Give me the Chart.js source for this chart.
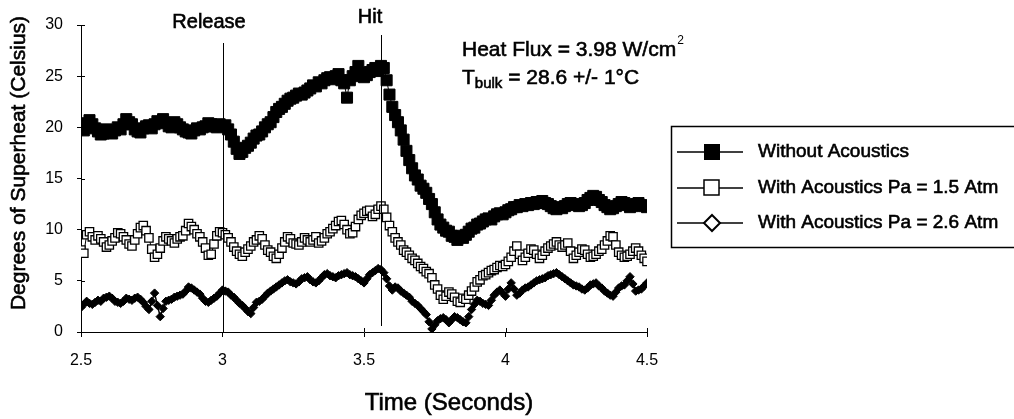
<!DOCTYPE html>
<html>
<head>
<meta charset="utf-8">
<script src="https://cdn.jsdelivr.net/npm/chart.js@4"></script>
<style>
  body { margin: 0; background: #fff; }
  #wrap { width: 1014px; height: 419px; }
</style>
</head>
<body>
<div id="wrap"><canvas id="myChart" width="1014" height="419"></canvas></div>
<script>
// time in seconds (one sample every 0.01 s)
let times = [
  2.50, 2.51, 2.52, 2.53, 2.54, 2.55, 2.56, 2.57, 2.58, 2.59,
  2.60, 2.61, 2.62, 2.63, 2.64, 2.65, 2.66, 2.67, 2.68, 2.69,
  2.70, 2.71, 2.72, 2.73, 2.74, 2.75, 2.76, 2.77, 2.78, 2.79,
  2.80, 2.81, 2.82, 2.83, 2.84, 2.85, 2.86, 2.87, 2.88, 2.89,
  2.90, 2.91, 2.92, 2.93, 2.94, 2.95, 2.96, 2.97, 2.98, 2.99,
  3.00, 3.01, 3.02, 3.03, 3.04, 3.05, 3.06, 3.07, 3.08, 3.09,
  3.10, 3.11, 3.12, 3.13, 3.14, 3.15, 3.16, 3.17, 3.18, 3.19,
  3.20, 3.21, 3.22, 3.23, 3.24, 3.25, 3.26, 3.27, 3.28, 3.29,
  3.30, 3.31, 3.32, 3.33, 3.34, 3.35, 3.36, 3.37, 3.38, 3.39,
  3.40, 3.41, 3.42, 3.43, 3.44, 3.45, 3.46, 3.47, 3.48, 3.49,
  3.50, 3.51, 3.52, 3.53, 3.54, 3.55, 3.56, 3.57, 3.58, 3.59,
  3.60, 3.61, 3.62, 3.63, 3.64, 3.65, 3.66, 3.67, 3.68, 3.69,
  3.70, 3.71, 3.72, 3.73, 3.74, 3.75, 3.76, 3.77, 3.78, 3.79,
  3.80, 3.81, 3.82, 3.83, 3.84, 3.85, 3.86, 3.87, 3.88, 3.89,
  3.90, 3.91, 3.92, 3.93, 3.94, 3.95, 3.96, 3.97, 3.98, 3.99,
  4.00, 4.01, 4.02, 4.03, 4.04, 4.05, 4.06, 4.07, 4.08, 4.09,
  4.10, 4.11, 4.12, 4.13, 4.14, 4.15, 4.16, 4.17, 4.18, 4.19,
  4.20, 4.21, 4.22, 4.23, 4.24, 4.25, 4.26, 4.27, 4.28, 4.29,
  4.30, 4.31, 4.32, 4.33, 4.34, 4.35, 4.36, 4.37, 4.38, 4.39,
  4.40, 4.41, 4.42, 4.43, 4.44, 4.45, 4.46, 4.47, 4.48, 4.49,
  4.50
];

// degrees of superheat
let withoutAcoustics = [
  20.0, 19.7, 20.4, 20.7, 20.3, 19.9, 19.6, 19.3, 19.4, 19.8,
  19.6, 19.4, 19.7, 20.0, 19.8, 20.3, 20.8, 20.5, 20.3, 19.8,
  19.6, 19.5, 19.9, 20.1, 20.2, 19.9, 20.3, 20.6, 20.5, 20.8,
  20.4, 20.1, 20.0, 20.5, 20.3, 20.0, 19.8, 19.6, 19.5, 19.4,
  19.7, 19.9, 19.8, 20.0, 20.1, 20.4, 20.3, 20.1, 20.0, 20.3,
  20.1, 20.2, 19.8, 19.3, 18.6, 17.9, 17.4, 17.6, 18.0, 18.2,
  18.5, 18.9, 19.2, 19.3, 19.6, 20.0, 20.3, 20.5, 21.0, 21.5,
  21.8, 22.0, 22.3, 22.6, 22.8, 22.9, 23.1, 23.3, 23.2, 23.4,
  23.6, 23.8, 24.1, 24.0, 24.4, 24.3, 24.6, 24.8, 24.9, 24.7,
  25.0, 25.2, 24.6, 24.3, 22.9, 24.6, 25.0, 25.4, 26.0, 25.3,
  24.9, 25.1, 25.4, 25.6, 25.8, 25.5, 26.0, 25.8, 24.6, 23.2,
  22.0, 21.2, 20.5, 19.7, 18.8, 17.7, 16.8, 16.0, 15.3, 14.9,
  14.3, 14.0, 13.6, 13.0, 12.5, 11.7, 11.0, 10.5, 10.2, 9.9,
  9.8, 9.4, 9.3, 9.0, 9.4, 9.2, 9.5, 9.8, 10.1, 10.2,
  10.5, 10.6, 10.8, 11.0, 11.1, 11.0, 11.3, 11.5, 11.6, 11.5,
  11.7, 11.9, 12.0, 12.2, 12.2, 12.4, 12.3, 12.5, 12.4, 12.6,
  12.5, 12.7, 12.6, 12.8, 12.6, 12.5, 12.3, 12.1, 12.0, 12.2,
  12.1, 12.3, 12.5, 12.6, 12.4, 12.5, 12.3, 12.4, 12.6, 12.9,
  13.1, 13.3, 13.2, 12.9, 12.7, 12.4, 12.2, 12.0, 12.1, 12.3,
  12.5, 12.7, 12.6, 12.4, 12.2, 12.3, 12.5, 12.6, 12.4, 12.3,
  12.2
];

let acoustics15 = [
  8.0, 7.7, 9.5, 9.8, 9.3, 9.0, 9.4, 9.1, 8.8, 8.3,
  8.5, 8.9, 9.2, 9.7, 9.6, 9.3, 9.0, 8.6, 8.4, 9.0,
  9.6, 10.2, 10.4, 9.9, 9.2, 8.1, 7.3, 7.6, 8.2, 8.9,
  9.3, 9.1, 8.9, 8.7, 9.1, 9.3, 9.4, 9.9, 10.6, 10.3,
  10.0, 9.6, 9.3, 8.8, 8.2, 7.5, 7.6, 8.6, 9.4, 9.8,
  9.7, 9.5, 9.2, 8.8, 8.3, 7.9, 7.6, 7.4, 7.8, 8.1,
  8.4, 8.8, 9.0, 9.4, 9.1, 8.5, 8.0, 7.8, 7.4, 7.2,
  7.6, 8.2, 8.8, 9.3, 9.1, 8.7, 8.6, 8.5, 8.8, 9.2,
  9.0, 8.8, 9.0, 9.3, 8.7, 8.9, 9.2, 9.6, 9.8, 10.1,
  10.4, 10.8, 10.9, 10.5, 10.0, 9.6, 9.7, 10.3, 11.0, 11.4,
  11.6, 11.8, 11.9, 11.3, 11.5, 12.0, 12.3, 12.0, 11.2, 10.4,
  9.8, 9.2, 8.8, 8.5, 8.0, 7.8, 7.5, 7.2, 7.0, 6.7,
  6.4, 6.2, 5.9, 5.7, 5.3, 4.6, 4.2, 3.6, 3.2, 3.5,
  3.9, 3.7, 3.4, 3.0, 2.9, 3.3, 3.2, 3.6, 4.0, 4.4,
  4.9, 5.1, 5.5, 5.6, 5.8, 6.0, 6.1, 6.3, 6.5, 6.4,
  6.6, 6.9, 7.3, 7.9, 8.4, 7.6, 7.0, 7.3, 7.7, 8.1,
  8.0, 7.6, 7.2, 7.5, 7.9, 8.2, 8.4, 8.6, 8.8, 8.5,
  8.3, 8.5, 8.7, 7.9, 7.2, 7.5, 7.8, 8.1, 8.0, 7.6,
  7.3, 7.4, 7.6, 7.9, 8.1, 8.5, 8.9, 9.4, 9.3, 8.5,
  7.8, 7.5, 7.3, 7.4, 7.6, 7.9, 8.2, 7.9, 7.5, 7.2,
  6.9
];

let acoustics26 = [
  2.4, 2.7, 3.0, 2.8, 2.7, 2.9, 3.1, 3.0, 3.3, 3.4,
  3.5, 3.3, 3.0, 2.9, 2.8, 3.0, 3.3, 3.2, 3.1, 3.3,
  3.4, 3.2, 2.9, 2.5, 2.2, 3.0, 3.8, 2.6, 1.5, 2.3,
  3.0, 3.1, 3.2, 3.4, 3.5, 3.6, 3.7, 4.0, 4.4, 4.3,
  4.1, 3.9, 3.7, 3.3, 3.0, 2.9, 3.1, 3.3, 3.5, 3.8,
  4.1, 4.0, 3.9, 3.6, 3.4, 3.1, 2.8, 2.6, 2.3, 2.0,
  1.8, 2.4, 2.9, 3.0, 3.2, 3.5, 3.8, 4.0, 4.2, 4.4,
  4.6, 4.8, 5.0, 5.1, 4.9, 4.8, 4.7, 4.9, 5.2, 5.3,
  5.4, 5.1, 4.9, 4.8, 5.0, 5.3, 5.6, 5.7, 5.5, 5.4,
  5.3, 5.5, 5.6, 5.7, 5.8, 5.6, 5.5, 5.4, 5.2, 5.0,
  4.8, 5.2, 5.6, 5.8, 6.0, 6.2, 6.1, 5.8, 5.2, 4.5,
  4.1, 4.4, 4.3, 4.0, 3.8, 3.6, 3.4, 3.0, 2.8, 2.6,
  2.3, 2.0, 1.7, 1.0, 0.3, 0.7, 1.1, 1.3, 1.4, 1.2,
  0.9, 1.2, 1.5, 1.4, 1.2, 1.0, 0.9, 1.5, 2.2, 2.7,
  3.1, 3.0, 2.8, 2.7, 2.6, 3.1, 3.6, 3.9, 4.1, 3.8,
  3.5, 4.2, 4.8, 4.2, 3.6, 3.8, 4.1, 4.3, 4.4, 4.6,
  4.8, 5.0, 5.1, 5.2, 5.3, 5.5, 5.6, 5.7, 5.8, 5.6,
  5.4, 5.2, 5.0, 4.8, 4.6, 4.5, 4.4, 4.2, 4.1, 4.3,
  4.6, 4.7, 4.8, 4.5, 4.3, 4.0, 3.8, 3.6, 3.5, 3.9,
  4.3, 4.5, 4.6, 5.0, 5.4, 4.7, 4.0, 4.1, 4.2, 4.5,
  4.8
];

let seriesNames = [
  "Without Acoustics",
  "With Acoustics Pa = 1.5 Atm",
  "With Acoustics Pa = 2.6 Atm"
];

// vertical event markers
let events = [
  { label: "Release", time: 3.0 },
  { label: "Hit", time: 3.56 }
];

let FONT = "'Liberation Sans', Arial, sans-serif";

function toPoints(values) {
  let pts = [];
  for (let i = 0; i < times.length; i++) {
    pts.push({ x: times[i], y: values[i] });
  }
  return pts;
}

// text a little heavier, like the scanned original
function heavyText(ctx, str, x, y) {
  ctx.fillText(str, x, y);
  ctx.lineWidth = 0.6;
  ctx.strokeText(str, x, y);
}

// legend, titles and notes drawn on top of the chart
let extras = {
  id: "extras",
  afterDraw(chart) {
    let ctx = chart.ctx;
    let xs = chart.scales.x;
    let ys = chart.scales.y;
    let area = chart.chartArea;
    ctx.save();
    ctx.fillStyle = "#000";
    ctx.strokeStyle = "#000";

    // small tick marks inside the axes
    ctx.lineWidth = 1;
    ctx.beginPath();
    for (let v = 0; v <= 30; v += 5) {
      let y = Math.round(ys.getPixelForValue(v)) + 0.5;
      ctx.moveTo(area.left, y);
      ctx.lineTo(area.left + 4, y);
    }
    for (let v = 2.5; v <= 4.5; v += 0.5) {
      let x = Math.round(xs.getPixelForValue(v)) + 0.5;
      ctx.moveTo(x, area.bottom);
      ctx.lineTo(x, area.bottom - 4);
    }
    ctx.stroke();

    // event lines
    let tops = [43, 35];
    let labelX = [209, 370];
    let labelY = [22, 17];
    ctx.font = "20px " + FONT;
    ctx.textAlign = "center";
    ctx.textBaseline = "middle";
    for (let i = 0; i < events.length; i++) {
      let x = Math.round(xs.getPixelForValue(events[i].time)) + 0.5;
      ctx.lineWidth = 1;
      ctx.beginPath();
      ctx.moveTo(x, tops[i]);
      ctx.lineTo(x, i == 0 ? area.bottom : area.bottom - 6);
      ctx.stroke();
      heavyText(ctx, events[i].label, labelX[i], labelY[i]);
    }

    // notes
    ctx.textAlign = "left";
    ctx.font = "21px " + FONT;
    let s1 = "Heat Flux = 3.98 W/cm";
    heavyText(ctx, s1, 462, 50);
    let w1 = ctx.measureText(s1).width;
    ctx.font = "12px " + FONT;
    ctx.fillText("2", 462 + w1 + 1, 41);
    ctx.font = "21px " + FONT;
    heavyText(ctx, "T", 462, 78);
    let wt = ctx.measureText("T").width;
    ctx.font = "15px " + FONT;
    heavyText(ctx, "bulk", 462 + wt, 84);
    let wb = ctx.measureText("bulk").width;
    ctx.font = "21px " + FONT;
    heavyText(ctx, " = 28.6 +/- 1\u00B0C", 462 + wt + wb, 78);

    // axis titles
    ctx.font = "24px " + FONT;
    ctx.textAlign = "center";
    heavyText(ctx, "Time (Seconds)", 449, 403);
    ctx.save();
    ctx.translate(19, 163);
    ctx.rotate(-Math.PI / 2);
    ctx.font = "21px " + FONT;
    heavyText(ctx, "Degrees of Superheat (Celsius)", 0, 0);
    ctx.restore();

    // legend box
    ctx.lineWidth = 1.5;
    ctx.strokeRect(671.5, 126.5, 360, 121);
    let rows = [152, 188, 223];
    ctx.font = "19px " + FONT;
    ctx.textAlign = "left";
    for (let i = 0; i < rows.length; i++) {
      let y = rows[i];
      ctx.lineWidth = 1.5;
      ctx.beginPath();
      ctx.moveTo(677, y);
      ctx.lineTo(743, y);
      ctx.stroke();
      if (i == 0) {
        ctx.fillRect(704, y - 8, 16, 16);
      } else if (i == 1) {
        ctx.fillStyle = "#fff";
        ctx.fillRect(704, y - 8, 15, 15);
        ctx.fillStyle = "#000";
        ctx.lineWidth = 1.5;
        ctx.strokeRect(704, y - 8, 15, 15);
      } else {
        ctx.beginPath();
        ctx.moveTo(712, y - 8);
        ctx.lineTo(720, y);
        ctx.lineTo(712, y + 8);
        ctx.lineTo(704, y);
        ctx.closePath();
        ctx.fillStyle = "#fff";
        ctx.fill();
        ctx.fillStyle = "#000";
        ctx.lineWidth = 2;
        ctx.stroke();
      }
      heavyText(ctx, seriesNames[i], 758, y);
    }
    ctx.restore();
  }
};

let ctx = document.getElementById("myChart").getContext("2d");

let myChart = new Chart(ctx, {
  type: "line",
  data: {
    datasets: [
      {
        label: seriesNames[0],
        data: toPoints(withoutAcoustics),
        borderColor: "#000",
        borderWidth: 1,
        backgroundColor: "#000",
        pointStyle: "rect",
        pointRadius: 7.8,
        pointBorderWidth: 1,
        pointBackgroundColor: "#000",
        pointBorderColor: "#000"
      },
      {
        label: seriesNames[1],
        data: toPoints(acoustics15),
        borderColor: "#000",
        borderWidth: 1,
        pointStyle: "rect",
        pointRadius: 5.9,
        pointBorderWidth: 1.3,
        pointBackgroundColor: "#fff",
        pointBorderColor: "#000"
      },
      {
        label: seriesNames[2],
        data: toPoints(acoustics26),
        borderColor: "#000",
        borderWidth: 1.5,
        pointStyle: "rectRot",
        pointRadius: 4.2,
        pointBorderWidth: 1,
        pointBackgroundColor: "#000",
        pointBorderColor: "#000"
      }
    ]
  },
  options: {
    responsive: false,
    animation: false,
    devicePixelRatio: 1,
    layout: {
      padding: { top: 25, right: 367, left: 0, bottom: 0 }
    },
    plugins: {
      legend: { display: false },
      tooltip: { enabled: false }
    },
    elements: {
      line: { tension: 0 }
    },
    scales: {
      x: {
        type: "linear",
        min: 2.5,
        max: 4.5,
        afterFit: function (scale) { scale.height = 87; },
        grid: {
          drawOnChartArea: false,
          color: "#000",
          tickLength: 5
        },
        border: { color: "#000", width: 1 },
        ticks: {
          stepSize: 0.5,
          padding: 14,
          color: "#000",
          font: { family: FONT, size: 16 },
          maxRotation: 0,
          callback: function (v) { return String(v); }
        }
      },
      y: {
        min: 0,
        max: 30,
        afterFit: function (scale) { scale.width = 81; },
        grid: {
          drawOnChartArea: false,
          color: "#000",
          tickLength: 4
        },
        border: { color: "#000", width: 1 },
        ticks: {
          stepSize: 5,
          padding: 14,
          color: "#000",
          font: { family: FONT, size: 16 }
        }
      }
    }
  },
  plugins: [extras]
});
</script>
</body>
</html>
